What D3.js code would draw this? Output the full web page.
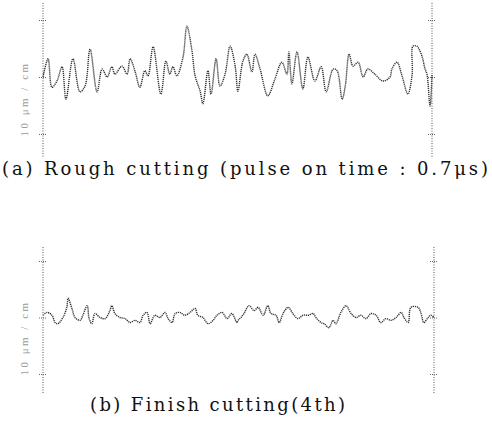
<!DOCTYPE html>
<html>
<head>
<meta charset="utf-8">
<script src="https://cdn.jsdelivr.net/npm/d3@7"></script>
<style>
  body { margin: 0; background: #fff; }
</style>
</head>
<body>
<div id="chart"></div>
<script>
// Surface profiles, position along trace (0-100) and height (ticks at +/-10)
var roughPos = [0, 1.3, 2.3, 3.6, 4.9, 5.9, 7.7, 9.5, 10.8, 12.1, 13.9, 15.2, 16.5, 17.7, 18.5, 20.3, 21.6, 22.4, 23.7, 24.9,
  26.2, 27.0, 28.3, 30.3, 31.6, 32.6, 33.4, 34.4, 36.0, 37.0, 38.3, 39.1, 40.4, 41.1, 42.4, 43.2, 44.5, 45.5, 46.8, 48.1,
  49.4, 50.1, 51.4, 52.4, 53.7, 54.5, 55.8, 57.8, 59.6, 61.4, 62.7, 63.2, 64.0, 65.3, 66.8, 68.1, 69.9, 71.5, 72.8, 74.6,
  75.6, 76.9, 77.7, 78.7, 79.7, 81.0, 82.3, 83.5, 85.3, 87.4, 89.2, 89.7, 91.0, 92.3, 93.8, 94.9, 95.1, 96.1, 97.4, 98.2,
  98.7, 99.5, 100];
var roughHeight = [0, 3.2, -1.8, -0.7, 1.8, -3.9, 3.2, -2.6, -1.6, 4.9, -2.6, 1.4, 0, 1.8, 0.5, 1.9, 0.5, 3.2, 0.9, -1.8,
  1.1, 0.2, 5.3, -3.0, 2.8, 0.5, 1.8, 0.2, 3.5, 8.9, 4.6, 0.2, -2.5, -4.7, 1.1, -3.0, 3.2, -1.6, 0.5, 5.4,
  1.9, -2.5, 2.8, 4.0, 0.9, 4.0, 1.4, -3.3, -0.4, 2.6, 0.5, 4.4, -1.2, 4.4, -2.1, 3.5, -0.7, 1.8, -2.6, 1.4,
  1.1, -3.9, -1.6, 4.0, 1.9, 2.6, 0, 1.4, 0.5, -0.7, 0, 1.4, 2.6, 0.2, -3.0, 0.5, 5.4, 5.4, 3.7, 1.4,
  0.5, -5.1, 0.5];

var finishPos = [0, 1.0, 2.3, 3.1, 3.8, 5.1, 6.1, 6.4, 7.4, 8.2, 9.5, 10.2, 11.3, 11.8, 12.5, 13.3, 14.6, 15.9, 17.1, 17.6,
  18.4, 19.7, 21.0, 22.3, 23.5, 24.8, 25.6, 26.6, 27.4, 28.6, 29.9, 31.2, 32.0, 33.0, 33.8, 35.0, 36.3, 37.6, 38.9, 39.6,
  40.9, 42.2, 43.5, 44.5, 45.8, 47.1, 48.3, 49.6, 49.9, 50.6, 51.4, 52.7, 54.0, 55.0, 56.3, 57.5, 58.3, 59.6, 60.4, 61.4,
  62.7, 63.9, 65.2, 66.5, 67.8, 69.1, 69.8, 71.1, 71.9, 73.1, 74.2, 74.9, 76.2, 77.5, 78.8, 80.1, 81.3, 82.6, 83.9, 85.2,
  86.4, 87.7, 89.0, 90.3, 91.6, 92.3, 93.4, 94.1, 95.9, 96.7, 97.4, 98.5, 99.2, 100];
var finishHeight = [0.4, 0.9, 0.4, -0.9, -1.1, 0, 1.8, 3.4, 1.6, 0, -0.5, 0.4, 2.1, -0.2, -1.1, 0.7, 0, -0.2, 1.2, 2.1,
  0.7, 0, -0.2, -0.9, -0.5, -0.9, 0.4, 0.9, -1.1, 0.4, 0, 0.9, -0.2, -0.9, 0.7, 0.9, 0.4, 0.9, 1.6, 0.4,
  0, -1.1, -0.5, 0.4, 0.9, -0.2, 0.7, -0.9, -0.5, 0, 0.7, 2.1, 1.2, 1.8, 0.4, 2.1, 0.7, 0.4, -0.9, 0.7,
  1.8, 0.7, -0.2, 0.4, 0.4, 0.7, 0, -0.9, -1.1, -1.8, -0.5, -1.1, 0.9, 2.1, 0.7, 0, 0.4, -0.2, 0.7, 0.4,
  -0.9, -0.2, -0.5, 0, 0.9, 0, -0.9, 1.8, 1.8, 0.7, -0.9, 0, 0.4, 0];

var tickValues = [-10, 0, 10];
var scaleLabel = "10 \u03bcm / cm";
var captions = ["(a) Rough cutting (pulse on time : 0.7\u03bcs)", "(b) Finish cutting(4th)"];

var svg = d3.select("#chart")
  .append("svg")
  .attr("width", 492)
  .attr("height", 427);

svg.append("rect").attr("width", 492).attr("height", 427).attr("fill", "#fff");

// panel layout
var panels = [
  { pos: roughPos, h: roughHeight, x0: 43, x1: 432, yTop: 20, yBot: 134, axTop: 3, axBot: 157,
    labelY: 99, capX: 2, capY: 175, capLen: 486, caption: captions[0] },
  { pos: finishPos, h: finishHeight, x0: 43, x1: 434, yTop: 261, yBot: 374, axTop: 247, axBot: 393,
    labelY: 338, capX: 90, capY: 411, capLen: 255, caption: captions[1] }
];

panels.forEach(function(p) {
  var x = d3.scaleLinear().domain([0, 100]).range([p.x0, p.x1]);
  var y = d3.scaleLinear().domain([-10, 10]).range([p.yBot, p.yTop]);

  var g = svg.append("g");

  // vertical axes at both ends, dotted, extending past the ticks
  [0, 100].forEach(function(v) {
    g.append("line")
      .attr("x1", x(v)).attr("x2", x(v))
      .attr("y1", p.axTop).attr("y2", p.axBot)
      .attr("stroke", "#555")
      .attr("stroke-width", 1)
      .attr("stroke-dasharray", "1,1.5");

    var ax = g.append("g")
      .attr("transform", `translate(${x(v)},0)`)
      .call(d3.axisLeft(y).tickValues(tickValues).tickSize(4).tickFormat(""));
    ax.select(".domain").remove();
    ax.selectAll(".tick line")
      .attr("x1", -4).attr("x2", 4)
      .attr("stroke", "#666")
      .attr("stroke-dasharray", "1,1");
  });

  // profile trace
  var pts = p.pos.map(function(d, i) { return [d, p.h[i]]; });
  var line = d3.line()
    .x(d => x(d[0]))
    .y(d => y(d[1]))
    .curve(d3.curveCatmullRom.alpha(0.5));

  g.append("path")
    .datum(pts)
    .attr("d", line)
    .attr("fill", "none")
    .attr("stroke", "#333")
    .attr("stroke-width", 1.4)
    .attr("stroke-dasharray", "1.2,0.8");

  // faint rotated scale label
  g.append("text")
    .attr("transform", `translate(28, ${p.labelY}) rotate(-90)`)
    .attr("text-anchor", "middle")
    .attr("font-family", "Liberation Serif")
    .attr("font-size", 11)
    .attr("fill", "#999")
    .attr("letter-spacing", 2.5)
    .text(scaleLabel);

  // caption
  g.append("text")
    .attr("x", p.capX)
    .attr("y", p.capY)
    .attr("font-family", "DejaVu Serif")
    .attr("font-size", 18)
    .attr("fill", "#111")
    .attr("textLength", p.capLen)
    .attr("lengthAdjust", "spacing")
    .text(p.caption);
});
</script>
</body>
</html>
